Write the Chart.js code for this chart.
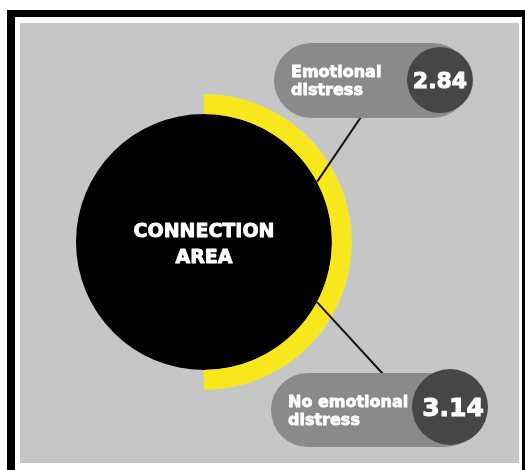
<!DOCTYPE html>
<html>
<head>
<meta charset="utf-8">
<title>Connection area</title>
<script src="https://cdn.jsdelivr.net/npm/chart.js@4/dist/chart.umd.min.js"></script>
<style>
  html, body { margin: 0; padding: 0; background: #fff; width: 525px; height: 470px; overflow: hidden; }
  /* marco negro y panel gris de fondo */
  #frame { position: absolute; left: 7px; top: 10px; width: 507px; height: 480px; border: 8px solid #000; border-top-width: 7px; background: #fff; }
  #panel { position: absolute; left: 20px; top: 23px; width: 499px; height: 440px; background: #c6c6c6; }
  #chart { position: absolute; left: 0; top: 0; }
</style>
</head>
<body>
<div id="frame"></div>
<div id="panel"></div>
<canvas id="chart" width="525" height="470"></canvas>

<script>
// Datos
const categories = ["Emotional distress", "No emotional distress"];
const labelLines = [["Emotional", "distress"], ["No emotional", "distress"]];
const scores = [2.84, 3.14];
const centerLabel = ["CONNECTION", "AREA"];

// Colores
const YELLOW = "#f8e71c";
const PILL = "#8a8a8a";
const BUBBLE = "#464646";
const FONT = "'DejaVu Sans', sans-serif";

// Cajas de las etiquetas (pastilla + círculo oscuro con el valor)
const callouts = [
  { x: 274, y: 43, w: 196, h: 75, bx: 440, by: 80, br: 33, numSize: 22, lineX: 361, angle: -28 },
  { x: 271, y: 373, w: 211, h: 74, bx: 450, by: 407, br: 38, numSize: 25, lineX: 383, angle: 28 },
];

const total = scores.reduce((a, b) => a + b, 0);

// texto blanco un poco más grueso (relleno + trazo fino)
function heavyText(ctx, txt, x, y, w) {
  ctx.lineWidth = w;
  ctx.lineJoin = "round";
  ctx.strokeStyle = "#fff";
  ctx.strokeText(txt, x, y);
  ctx.fillText(txt, x, y);
}

// Dibuja texto del centro, líneas y etiquetas encima del doughnut
const calloutPlugin = {
  id: "callouts",
  afterDatasetsDraw(chart) {
    const ctx = chart.ctx;
    const arc = chart.getDatasetMeta(0).data[0];
    const cx = arc.x, cy = arc.y, rIn = arc.innerRadius;

    ctx.save();
    // texto central
    ctx.fillStyle = "#fff";
    ctx.textAlign = "center";
    ctx.textBaseline = "alphabetic";
    ctx.font = `bold 19px ${FONT}`;
    heavyText(ctx, centerLabel[0], cx, cy - 5, 0.9);
    heavyText(ctx, centerLabel[1], cx, cy + 21, 0.9);

    callouts.forEach((c, i) => {
      const a = c.angle * Math.PI / 180;
      const x0 = cx + rIn * Math.cos(a);
      const y0 = cy + rIn * Math.sin(a);
      const y1 = i === 0 ? c.y + c.h - 1 : c.y + 1;

      // línea conectora
      ctx.strokeStyle = "#111";
      ctx.lineWidth = 2;
      ctx.beginPath();
      ctx.moveTo(x0, y0);
      ctx.lineTo(c.lineX, y1);
      ctx.stroke();

      // pastilla
      ctx.fillStyle = PILL;
      ctx.beginPath();
      ctx.roundRect(c.x, c.y, c.w, c.h, c.h / 2);
      ctx.fill();

      // círculo con el valor
      ctx.fillStyle = BUBBLE;
      ctx.beginPath();
      ctx.arc(c.bx, c.by, c.br, 0, Math.PI * 2);
      ctx.fill();

      ctx.fillStyle = "#fff";
      ctx.textAlign = "center";
      ctx.font = `bold ${c.numSize}px ${FONT}`;
      heavyText(ctx, scores[i].toFixed(2), c.bx + (i === 1 ? 3 : 0), c.by + c.numSize * 0.729 / 2, 1);

      ctx.textAlign = "left";
      ctx.font = `bold 16px ${FONT}`;
      heavyText(ctx, labelLines[i][0], c.x + 17, c.y + 34, 0.8);
      heavyText(ctx, labelLines[i][1], c.x + 17, c.y + 52, 0.8);
    });
    ctx.restore();
  },
};

new Chart(document.getElementById("chart"), {
  type: "doughnut",
  data: {
    labels: [...categories, ""],
    datasets: [
      {
        // anillo amarillo: los dos valores ocupan la mitad derecha
        data: [...scores, total],
        backgroundColor: [YELLOW, YELLOW, "rgba(0,0,0,0)"],
        borderWidth: 0,
        hoverOffset: 0,
        weight: 20,
      },
      {
        // círculo negro del área de conexión
        data: [total],
        backgroundColor: ["#000"],
        borderWidth: 0,
        hoverOffset: 0,
        weight: 128,
      },
    ],
  },
  options: {
    responsive: false,
    animation: false,
    devicePixelRatio: 1,
    events: [],
    cutout: 0,
    layout: { padding: { left: 56, right: 173, top: 94, bottom: 80 } },
    plugins: {
      legend: { display: false },
      tooltip: { enabled: false },
    },
  },
  plugins: [calloutPlugin],
});
</script>
</body>
</html>
